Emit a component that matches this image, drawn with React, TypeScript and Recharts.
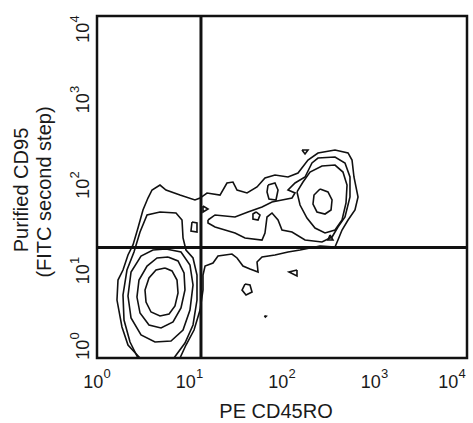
import React from "react";
import {
  ScatterChart,
  Scatter,
  XAxis,
  YAxis,
  ReferenceLine,
  ReferenceArea,
} from "recharts";

// all coordinates are in decades: 0 = 10^0 ... 4 = 10^4
const decadeTicks = [0, 1, 2, 3, 4];
const gateX = 1.124; // PE CD45RO gate (~13)
const gateY = 1.292; // CD95 gate (~19.6)

type Pt = [number, number];

// left (CD45RO-) population, inner to outer
const left1: Pt[] = [
  [0.735, 1.053], [0.811, 1.018], [0.865, 0.912], [0.876, 0.76], [0.843, 0.608],
  [0.779, 0.515], [0.681, 0.491], [0.584, 0.538], [0.53, 0.655], [0.519, 0.795],
  [0.562, 0.936], [0.638, 1.029],
];
const left2: Pt[] = [
  [0.768, 1.181], [0.876, 1.135], [0.941, 0.994], [0.951, 0.795], [0.908, 0.585],
  [0.822, 0.421], [0.692, 0.351], [0.562, 0.386], [0.465, 0.526], [0.432, 0.713],
  [0.454, 0.912], [0.541, 1.076], [0.649, 1.17],
];
const left3: Pt[] = [
  [0.746, 1.275], [0.908, 1.24], [1.005, 1.088], [1.038, 0.854], [1.005, 0.561],
  [0.93, 0.327], [0.8, 0.199], [0.627, 0.187], [0.476, 0.269], [0.368, 0.468],
  [0.335, 0.725], [0.368, 1.006], [0.476, 1.193], [0.605, 1.263],
];
const left4: Pt[] = [
  [0.832, 0], [0.951, 0.175], [1.038, 0.386], [1.081, 0.678], [1.081, 0.971],
  [1.038, 1.17], [0.962, 1.263], [0.93, 1.404], [0.919, 1.614], [0.854, 1.696],
  [0.681, 1.708], [0.541, 1.673], [0.465, 1.474], [0.4, 1.24], [0.324, 1.029],
  [0.281, 0.737], [0.292, 0.444], [0.357, 0.187], [0.443, 0],
];

// outermost contour, spans both populations
const outer: Pt[] = [
  [0.465, 0], [0.335, 0.152], [0.27, 0.363], [0.216, 0.678], [0.227, 0.912],
  [0.281, 1.029], [0.335, 1.205], [0.389, 1.322], [0.443, 1.52], [0.497, 1.731],
  [0.551, 1.871], [0.595, 1.965], [0.681, 2.023], [0.746, 1.965], [0.897, 1.906],
  [1.059, 1.848], [1.114, 1.871], [1.189, 1.93], [1.33, 1.906], [1.405, 2.047],
  [1.47, 2.058], [1.514, 1.965], [1.622, 1.93], [1.73, 2.0], [1.816, 2.105],
  [1.924, 2.14], [2.065, 2.117], [2.173, 2.164], [2.281, 2.316], [2.389, 2.398],
  [2.573, 2.433], [2.714, 2.398], [2.757, 2.316], [2.778, 2.117], [2.822, 1.883],
  [2.789, 1.731], [2.714, 1.614], [2.649, 1.497], [2.605, 1.38], [2.573, 1.298],
  [2.411, 1.31], [2.195, 1.263], [2.065, 1.24], [1.924, 1.205], [1.784, 1.181],
  [1.73, 1.123], [1.741, 1.006], [1.654, 1.041], [1.578, 1.076], [1.514, 1.17],
  [1.459, 1.216], [1.384, 1.205], [1.308, 1.193], [1.254, 1.111], [1.168, 1.076],
  [1.146, 0.971], [1.146, 0.795], [1.114, 0.561], [1.049, 0.327], [0.962, 0.152],
  [0.897, 0],
];

// right (CD45RO+ CD95+) population
const right2: Pt[] = [
  [1.2, 1.614], [1.276, 1.673], [1.492, 1.649], [1.632, 1.708], [1.784, 1.766],
  [1.892, 1.825], [2.0, 1.848], [2.108, 1.871], [2.141, 1.93], [2.065, 1.965],
  [2.141, 2.047], [2.249, 2.117], [2.324, 2.281], [2.389, 2.339], [2.573, 2.351],
  [2.681, 2.281], [2.735, 2.117], [2.735, 1.883], [2.681, 1.649], [2.605, 1.532],
  [2.541, 1.415], [2.432, 1.357], [2.249, 1.38], [2.108, 1.474], [2.0, 1.497],
  [1.957, 1.614], [1.892, 1.696], [1.838, 1.649], [1.816, 1.462], [1.784, 1.38],
  [1.6, 1.404], [1.492, 1.462], [1.384, 1.497], [1.276, 1.532], [1.2, 1.579],
];
const right3: Pt[] = [
  [2.162, 1.942], [2.227, 2.058], [2.303, 2.175], [2.432, 2.246], [2.573, 2.257],
  [2.659, 2.175], [2.703, 2.023], [2.692, 1.813], [2.649, 1.614], [2.573, 1.497],
  [2.465, 1.462], [2.357, 1.52], [2.27, 1.637], [2.195, 1.789],
];
const right4: Pt[] = [
  [2.411, 1.977], [2.497, 1.942], [2.541, 1.848], [2.53, 1.731], [2.465, 1.684],
  [2.378, 1.708], [2.335, 1.801], [2.346, 1.906],
];

// small isolated islands
const islands: Pt[][] = [
  [[1.849, 2.023], [1.924, 2.047], [1.957, 1.965], [1.935, 1.848], [1.859, 1.86], [1.838, 1.942]],
  [[1.719, 1.708], [1.762, 1.673], [1.741, 1.614], [1.686, 1.626], [1.686, 1.684]],
  [[1.6, 0.865], [1.654, 0.854], [1.676, 0.772], [1.611, 0.737], [1.568, 0.795]],
  [[2.162, 1.029], [2.076, 1.006], [2.162, 0.959]],
  [[2.216, 2.433], [2.281, 2.433], [2.249, 2.386]],
  [[2.519, 1.439], [2.551, 1.38], [2.497, 1.38]],
  [[1.027, 1.591], [1.081, 1.579], [1.081, 1.474], [1.016, 1.485]],
  [[1.146, 1.778], [1.2, 1.743], [1.146, 1.708]],
  [[1.81, 0.495], [1.83, 0.49], [1.82, 0.48]],
];

const closedRings = [left1, left2, left3, right2, right3, right4, ...islands];
const openPaths = [left4, outer];

const toRows = (pts: Pt[], close: boolean) => {
  const rows = pts.map(([x, y]) => ({ x, y }));
  return close ? [...rows, rows[0]] : rows;
};

const FONT = '"Liberation Sans", Arial, Helvetica, sans-serif';
const INK = "#1a1a1a";

const XTick = (props: any) => {
  const { x, payload } = props;
  const cx = Math.min(Math.max(x, 97), 452);
  return (
    <text x={cx} y={388} textAnchor="middle" fontFamily={FONT} fontSize={18} fill={INK}>
      <tspan>10</tspan>
      <tspan dy={-10} fontSize={13}>
        {payload.value}
      </tspan>
    </text>
  );
};

const YTick = (props: any) => {
  const { y, payload } = props;
  const cy = Math.min(Math.max(y - 2, 29), 346);
  return (
    <text
      x={89}
      y={cy}
      transform={`rotate(-90 89 ${cy})`}
      textAnchor="middle"
      fontFamily={FONT}
      fontSize={18}
      fill={INK}
    >
      <tspan>10</tspan>
      <tspan dy={-10} fontSize={13}>
        {payload.value}
      </tspan>
    </text>
  );
};

const YTitle = () => (
  <g fontFamily={FONT} fontSize={20} fill={INK}>
    <text x={28} y={190} transform="rotate(-90 28 190)" textAnchor="middle">
      Purified CD95
    </text>
    <text x={51} y={192} transform="rotate(-90 51 192)" textAnchor="middle">
      (FITC second step)
    </text>
  </g>
);

const XTitle = () => (
  <text x={276} y={418} textAnchor="middle" fontFamily={FONT} fontSize={20} fill={INK}>
    PE CD45RO
  </text>
);

const noDot = () => <g />;
const lineStyle = { stroke: "#111", strokeWidth: 1.6, fill: "none" };

export default function App() {
  return (
    <div style={{ position: "absolute", left: 0, top: 0, width: 473, height: 423, background: "#fff" }}>
      <ScatterChart width={473} height={423} margin={{ top: 16, right: 6, bottom: 0, left: 0 }}>
        <XAxis
          type="number"
          dataKey="x"
          domain={[0, 4]}
          ticks={decadeTicks}
          allowDataOverflow
          axisLine={false}
          tickLine={false}
          height={65}
          tick={<XTick />}
          label={{ content: () => <XTitle /> }}
        />
        <YAxis
          type="number"
          dataKey="y"
          domain={[0, 4]}
          ticks={decadeTicks}
          allowDataOverflow
          axisLine={false}
          tickLine={false}
          width={97}
          tick={<YTick />}
          label={{ content: () => <YTitle /> }}
        />
        {closedRings.map((ring, i) => (
          <Scatter
            key={`c${i}`}
            data={toRows(ring, true)}
            line={lineStyle}
            lineType="joint"
            shape={noDot}
            isAnimationActive={false}
          />
        ))}
        {openPaths.map((path, i) => (
          <Scatter
            key={`o${i}`}
            data={toRows(path, false)}
            line={lineStyle}
            lineType="joint"
            shape={noDot}
            isAnimationActive={false}
          />
        ))}
        <ReferenceLine x={gateX} stroke="#111" strokeWidth={3} />
        <ReferenceLine y={gateY} stroke="#111" strokeWidth={3} />
        <ReferenceArea x1={0} x2={4} y1={0} y2={4} fill="none" fillOpacity={0} stroke="#111" strokeWidth={2.5} />
      </ScatterChart>
    </div>
  );
}
